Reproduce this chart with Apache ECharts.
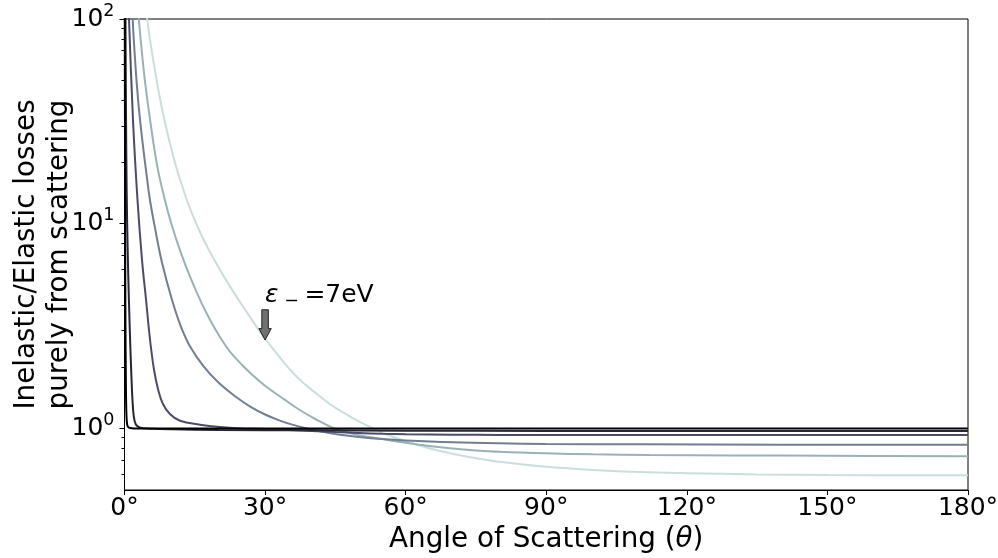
<!DOCTYPE html>
<html><head><meta charset="utf-8">
<script src="https://cdn.jsdelivr.net/npm/echarts@6/dist/echarts.min.js"></script>
<style>html,body{margin:0;padding:0;background:#fff}#c{width:998px;height:558px}</style>
</head><body><div id="c"></div>
<script>
// ---- data ----
const xTickValues = [0, 30, 60, 90, 120, 150, 180];
const yMajorTicks = [1, 10, 100];
const yMinorTicks = [0.6, 0.7, 0.8, 0.9, 2, 3, 4, 5, 6, 7, 8, 9, 20, 30, 40, 50, 60, 70, 80, 90];

const lightAngles = [3.5, 4.0, 4.84, 5.5, 6.5, 7.5, 8.3, 9.5, 11, 12.5, 13.6, 15, 16.5, 18, 20.4, 22.5, 24.3, 27, 30, 32.5, 35.3, 38, 41, 44, 47, 50, 53, 56, 60, 65, 70, 75, 80, 90, 100, 110, 120, 135, 150, 180];
const lightValues = [190, 148, 100, 77.6, 56.2, 41.7, 33.9, 25.7, 19.05, 14.8, 12.5, 10.4, 8.71, 7.45, 5.94, 4.94, 4.26, 3.44, 2.74, 2.32, 1.94, 1.68, 1.476, 1.306, 1.183, 1.081, 1.0, 0.933, 0.865, 0.80, 0.752, 0.715, 0.687, 0.649, 0.627, 0.612, 0.604, 0.596, 0.592, 0.590];

const tealAngles = [2.0, 2.5, 3.05, 4.2, 5.44, 7, 8.6, 10, 12, 14, 16.5, 18.5, 20.4, 22.5, 25.3, 26.8, 30, 34, 37.4, 41, 44.5, 47, 50, 55, 60, 65, 70, 75, 80, 90, 100, 112, 130, 150, 180];
const tealValues = [224, 144.5, 100, 53.7, 32.4, 19.05, 13.1, 10, 7.24, 5.5, 4.07, 3.31, 2.79, 2.37, 2.018, 1.871, 1.614, 1.39, 1.23, 1.102, 1.005, 0.962, 0.927, 0.887, 0.850, 0.820, 0.797, 0.78, 0.768, 0.755, 0.747, 0.742, 0.738, 0.735, 0.731];

const slateAngles = [1.0, 1.3, 1.75, 2.2, 2.7, 3.3, 4.0, 4.7, 5.4, 6.5, 8, 10.1, 12, 14, 16.8, 20, 23.9, 27, 30, 33, 36, 39, 42, 46, 50, 55, 60, 70, 80, 90, 110, 140, 180];
const slateValues = [355, 200, 100, 66, 45.7, 32.4, 23.4, 17.4, 13.2, 9.55, 6.46, 4.27, 3.16, 2.51, 2.02, 1.68, 1.419, 1.27, 1.169, 1.095, 1.04, 0.998, 0.964, 0.931, 0.908, 0.887, 0.873, 0.855, 0.845, 0.84, 0.836, 0.833, 0.831];

const navyAngles = [0.3, 0.6, 0.96, 1.81, 2.77, 3.73, 4.59, 5.44, 6.29, 7.15, 8.21, 9.7, 11.84, 16.1, 20.4, 24.6, 30, 35, 40, 45, 50, 55, 60, 70, 80, 100, 130, 180];
const navyValues = [250, 166, 100, 32.2, 13.1, 6.68, 4.27, 2.72, 1.94, 1.556, 1.315, 1.175, 1.089, 1.043, 1.015, 1.0, 0.993, 0.983, 0.971, 0.959, 0.949, 0.941, 0.936, 0.931, 0.929, 0.928, 0.927, 0.927];

const darkAngles = [0.1, 0.15, 0.21, 0.32, 0.47, 0.7, 0.95, 1.2, 1.45, 1.7, 2.0, 2.4, 3, 4, 6, 10, 20, 40, 60, 90, 180];
const darkValues = [600, 250, 100, 35.5, 14.1, 7.08, 4.17, 2.69, 1.86, 1.38, 1.135, 1.047, 1.016, 1.002, 0.995, 0.99, 0.983, 0.978, 0.975, 0.972, 0.971];

const blackAngles = [0.03, 0.06, 0.1, 0.15, 0.2, 0.3, 0.4, 0.55, 0.8, 1.2, 2, 30, 90, 180];
const blackValues = [400, 100, 30, 8, 3.5, 1.6, 1.2, 1.05, 1.015, 1.005, 1.0, 1.0, 1.0, 1.0];

const curveColors = ['#cbdede', '#98b2b8', '#727e92', '#4c4c6a', '#262635', '#000000'];

const annoTextAt = [30, 4.45];
const annoArrowTail = [30, 3.8];
const annoArrowTip = [30, 2.7];

// ---- chart ----
function pairs(a, v) { return a.map((x, i) => [x, v[i]]); }
const curves = [
  pairs(lightAngles, lightValues),
  pairs(tealAngles, tealValues),
  pairs(slateAngles, slateValues),
  pairs(navyAngles, navyValues),
  pairs(darkAngles, darkValues),
  pairs(blackAngles, blackValues)
];

const FONT = 'DejaVu Sans';
const chart = echarts.init(document.getElementById('c'), null, {renderer: 'canvas'});
const option = {
  animation: false,
  backgroundColor: '#ffffff',
  textStyle: {fontFamily: FONT},
  grid: {left: 124.5, right: 30, top: 19, bottom: 68, containLabel: false, outerBoundsMode: 'none',
    show: true, borderColor: '#000', borderWidth: 1, backgroundColor: 'transparent'},
  xAxis: {
    type: 'value', min: 0, max: 180, interval: 30,
    axisLine: {lineStyle: {color: '#000', width: 1}},
    axisTick: {show: true, inside: false, length: 5, lineStyle: {color: '#000', width: 1}, customValues: xTickValues},
    axisLabel: {color: '#000', fontSize: 25, fontFamily: FONT, margin: 6, formatter: v => v + '°', customValues: xTickValues},
    splitLine: {show: false},
    name: 'Angle of Scattering ({i|θ})',
    nameLocation: 'middle', nameGap: 36, nameMoveOverlap: false,
    nameTextStyle: {color: '#000', fontSize: 27.8, fontFamily: FONT, rich: {i: {fontStyle: 'italic', fontSize: 27.8, fontFamily: FONT, color: '#000'}}}
  },
  yAxis: [{
    type: 'log', logBase: 10, min: 0.5, max: 100,
    axisLine: {show: true, lineStyle: {color: '#000', width: 1}},
    axisTick: {show: true, inside: false, length: 5, lineStyle: {color: '#000', width: 1}, customValues: yMajorTicks},
    axisLabel: {
      color: '#000', margin: 10, customValues: yMajorTicks,
      formatter: v => '{b|10}{s|' + Math.round(Math.log10(v)) + '}',
      rich: {
        b: {fontSize: 25, fontFamily: FONT, color: '#000'},
        s: {fontSize: 17.5, fontFamily: FONT, color: '#000', padding: [0, 0, 16, 0]}
      }
    },
    splitLine: {show: false}, minorTick: {show: false},
    name: 'Inelastic/Elastic losses\npurely from scattering',
    nameLocation: 'middle', nameGap: 48, nameMoveOverlap: false,
    nameTextStyle: {color: '#000', fontSize: 27.8, lineHeight: 33, fontFamily: FONT, align: 'center'}
  }, {
    type: 'log', logBase: 10, min: 0.5, max: 100, position: 'left',
    axisLine: {show: false},
    axisTick: {show: true, inside: false, length: 3, lineStyle: {color: '#000', width: 1}, customValues: yMinorTicks},
    axisLabel: {show: false},
    splitLine: {show: false}
  }],
  series: curves.map((d, i) => ({
    type: 'line', data: d, xAxisIndex: 0, yAxisIndex: 0,
    showSymbol: false, symbol: 'none', smooth: 0.4,
    clip: true, z: 2 + i,
    lineStyle: {color: curveColors[i], width: 2}
  }))
};
chart.setOption(option);

const tip = chart.convertToPixel({xAxisIndex: 0, yAxisIndex: 0}, annoArrowTip);
const tail = chart.convertToPixel({xAxisIndex: 0, yAxisIndex: 0}, annoArrowTail);
const tp = chart.convertToPixel({xAxisIndex: 0, yAxisIndex: 0}, annoTextAt);
const sw = 3.3, hw = 6.2, hl = 11.5;
const ax = tip[0];
chart.setOption({
  graphic: [{
    type: 'polygon', z: 100,
    shape: {points: [[ax - sw, tail[1]], [ax + sw, tail[1]], [ax + sw, tip[1] - hl], [ax + hw, tip[1] - hl], [ax, tip[1]], [ax - hw, tip[1] - hl], [ax - sw, tip[1] - hl]]},
    style: {fill: '#707070', stroke: '#000', lineWidth: 0.8}
  }, {
    type: 'text', z: 100, x: tp[0], y: tp[1],
    style: {
      text: '{e|ε}{m| − }{n|=7eV}',
      verticalAlign: 'middle', align: 'left',
      rich: {
        e: {fontSize: 25, fontFamily: FONT, fontStyle: 'italic', fill: '#000'},
        m: {fontSize: 17.5, fontFamily: FONT, fill: '#000', padding: [12, 0, 0, 0]},
        n: {fontSize: 25, fontFamily: FONT, fill: '#000'}
      }
    }
  }]
});
</script>
</body></html>
